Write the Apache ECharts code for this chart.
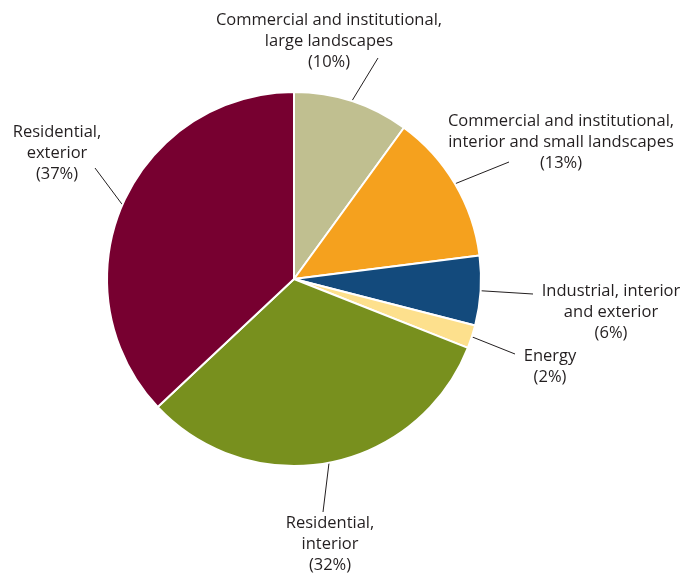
<!DOCTYPE html>
<html>
<head>
<meta charset="utf-8">
<script src="https://cdn.jsdelivr.net/npm/echarts@6/dist/echarts.min.js"></script>
<style>
  html, body { margin: 0; padding: 0; background: #ffffff; }
  #chart { width: 680px; height: 575px; }
</style>
</head>
<body>
<div id="chart"></div>
<script>
// Water use by sector, share of total (%)
var categories = [
  'Commercial and institutional,\nlarge landscapes',
  'Commercial and institutional,\ninterior and small landscapes',
  'Industrial, interior\nand exterior',
  'Energy',
  'Residential,\ninterior',
  'Residential,\nexterior'
];
var shares = [10, 13, 6, 2, 32, 37];
var colors = ['#c0bf90', '#f5a11e', '#134a7c', '#fde08d', '#78901e', '#770030'];

// Label placement: centre x and top y of each text block, plus the outer end of its leader line
var labelBoxes = [
  { cx: 329, top: 10 },
  { cx: 561, top: 111 },
  { cx: 611, top: 281 },
  { cx: 550, top: 346 },
  { cx: 330, top: 513 },
  { cx: 57,  top: 122 }
];
var leaderEnds = [
  [378, 58],
  [509, 162],
  [533, 294],
  [515, 354],
  [323, 512],
  [95, 168]
];

var chart = echarts.init(document.getElementById('chart'), null, { renderer: 'canvas' });

var pieData = categories.map(function (name, i) {
  return { name: name, value: shares[i], itemStyle: { color: colors[i] } };
});

chart.setOption({
  animation: false,
  backgroundColor: '#ffffff',
  series: [{
    type: 'pie',
    center: [294, 279],
    radius: [0, 187],
    startAngle: 90,
    clockwise: true,
    avoidLabelOverlap: false,
    data: pieData,
    itemStyle: { borderColor: '#ffffff', borderWidth: 2 },
    label: {
      show: true,
      position: 'outside',
      formatter: function (p) { return p.name + '\n(' + p.value + '%)'; },
      fontFamily: 'Open Sans',
      fontSize: 16.5,
      lineHeight: 21,
      color: '#231f20',
      align: 'center'
    },
    labelLine: {
      show: true,
      length: 20,
      length2: 0,
      smooth: false,
      lineStyle: { color: '#231f20', width: 1 }
    },
    labelLayout: function (params) {
      var i = params.dataIndex;
      var box = labelBoxes[i];
      var start = params.labelLinePoints ? params.labelLinePoints[0] : leaderEnds[i];
      return {
        x: box.cx,
        y: box.top,
        align: 'center',
        verticalAlign: 'top',
        labelLinePoints: [start, leaderEnds[i], leaderEnds[i]]
      };
    },
    emphasis: { disabled: true }
  }]
});
</script>
</body>
</html>
